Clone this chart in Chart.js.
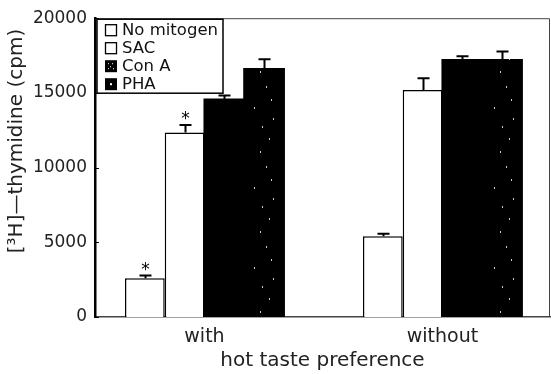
<!DOCTYPE html>
<html>
<head>
<meta charset="utf-8">
<script src="https://cdn.jsdelivr.net/npm/chart.js@4.4.1/dist/chart.umd.min.js"></script>
<style>
  html, body { margin: 0; padding: 0; background: #fff; }
</style>
</head>
<body>
<canvas id="chart" width="551" height="374"></canvas>
<script>
// Data
const categories = ['with', 'without'];
const seriesNames = ['No mitogen', 'SAC', 'Con A', 'PHA'];
const noMitogen = [2600, 5400];
const sac = [12350, 15200];
const conA = [14550, 17200];
const pha = [16600, 17200];
const noMitogenErr = [170, 170];
const sacErr = [500, 780];
const conAErr = [280, 260];
const phaErr = [650, 570];
// asterisks above bars (per series, per category)
const starred = [[true, false], [true, false], [false, false], [false, false]];
const yTicks = [0, 5000, 10000, 15000, 20000];

const FONT = '"DejaVu Sans", sans-serif';

// speckled black fill for PHA
function speckle() {
  const c = document.createElement('canvas');
  c.width = 40; c.height = 80;
  const g = c.getContext('2d');
  g.fillStyle = '#000';
  g.fillRect(0, 0, 40, 80);
  g.fillStyle = '#ccc';
  const dots = [[26, 6], [31, 19], [14, 27], [33, 38], [22, 46], [29, 58], [20, 71]];
  dots.forEach(([x, y]) => g.fillRect(x, y, 1, 2));
  return g.createPattern(c, 'repeat');
}

const toPoints = vals => vals.map((v, i) => ({ x: i + 1, y: v }));

const datasets = [
  { label: seriesNames[0], data: toPoints(noMitogen), errors: noMitogenErr,
    backgroundColor: '#fff', borderColor: '#000', borderWidth: 1.5 },
  { label: seriesNames[1], data: toPoints(sac), errors: sacErr,
    backgroundColor: '#fff', borderColor: '#000', borderWidth: 1.5 },
  { label: seriesNames[2], data: toPoints(conA), errors: conAErr,
    backgroundColor: '#000', borderWidth: 0, inflateAmount: 1 },
  { label: seriesNames[3], data: toPoints(pha), errors: phaErr,
    backgroundColor: speckle(), borderWidth: 0, inflateAmount: 1 }
];

// frame, error bars, asterisks, legend box, y title
const decor = {
  id: 'decor',
  afterDatasetsDraw(chart) {
    const { ctx, chartArea: a, scales: { y } } = chart;
    ctx.save();
    ctx.strokeStyle = '#444';
    ctx.lineWidth = 1;
    ctx.beginPath();
    ctx.moveTo(a.left, a.top + 0.5);
    ctx.lineTo(a.right - 0.5, a.top + 0.5);
    ctx.lineTo(a.right - 0.5, a.bottom);
    ctx.stroke();

    // small inward ticks on the y axis
    ctx.strokeStyle = '#000';
    yTicks.forEach(t => {
      const py = Math.round(y.getPixelForValue(t)) + 0.5;
      ctx.beginPath();
      ctx.moveTo(a.left, py);
      ctx.lineTo(a.left + 4, py);
      ctx.stroke();
    });

    chart.data.datasets.forEach((ds, di) => {
      chart.getDatasetMeta(di).data.forEach((bar, i) => {
        const top = y.getPixelForValue(ds.data[i].y + ds.errors[i]);
        const bx = Math.round(bar.x) + 0.5;
        ctx.strokeStyle = '#000';
        ctx.lineWidth = 2;
        ctx.beginPath();
        ctx.moveTo(bx, bar.y);
        ctx.lineTo(bx, top);
        ctx.moveTo(bx - 6, top);
        ctx.lineTo(bx + 6, top);
        ctx.stroke();
        if (starred[di][i]) {
          ctx.fillStyle = '#000';
          ctx.font = '17px ' + FONT;
          ctx.textAlign = 'center';
          ctx.textBaseline = 'alphabetic';
          ctx.fillText('*', bx, top - 1);
        }
      });
    });
    ctx.restore();
  },
  afterDraw(chart) {
    const { ctx, chartArea: a } = chart;
    ctx.save();
    // legend
    const lx = a.left + 2, ly = a.top + 1;
    ctx.fillStyle = '#fff';
    ctx.fillRect(lx, ly, 126, 74);
    ctx.strokeStyle = '#000';
    ctx.lineWidth = 1.5;
    ctx.strokeRect(lx, ly, 126, 74);
    ctx.font = '16.5px ' + FONT;
    ctx.textBaseline = 'middle';
    ctx.textAlign = 'left';
    seriesNames.forEach((name, i) => {
      const cy = ly + 11 + 18 * i;
      const sx = lx + 8, sy = cy - 6;
      if (i < 2) {
        ctx.fillStyle = '#fff';
        ctx.fillRect(sx, sy, 12, 12);
        ctx.lineWidth = 1.3;
        ctx.strokeRect(sx + 0.5, sy + 0.5, 11, 11);
      } else {
        ctx.fillStyle = '#000';
        ctx.fillRect(sx, sy, 12, 12);
        ctx.fillStyle = '#fff';
        if (i === 2) {
          [[3, 3], [7, 3], [5, 6], [3, 8], [8, 8]].forEach(([dx, dy]) => ctx.fillRect(sx + dx, sy + dy, 1, 1));
        } else {
          ctx.fillRect(sx + 5, sy + 5, 2, 2);
        }
      }
      ctx.fillStyle = '#111';
      ctx.fillText(name, lx + 25, cy + 1);
    });

    // y axis title
    ctx.translate(17, 141);
    ctx.rotate(-Math.PI / 2);
    ctx.textAlign = 'center';
    ctx.textBaseline = 'middle';
    ctx.font = '20px ' + FONT;
    ctx.fillStyle = '#222';
    ctx.fillText('[\u00b3H]\u2014thymidine (cpm)', 0, 0);
    ctx.restore();
  }
};

new Chart(document.getElementById('chart'), {
  type: 'bar',
  data: { datasets },
  options: {
    responsive: false,
    animation: false,
    devicePixelRatio: 1,
    layout: { padding: { left: 0, right: 1, top: 11, bottom: 0 } },
    datasets: { bar: { categoryPercentage: 0.668, barPercentage: 1 } },
    plugins: { legend: { display: false }, tooltip: { enabled: false } },
    scales: {
      x: {
        type: 'linear',
        offset: false,
        bounds: 'data',
        min: 0.54,
        max: 2.452,
        afterBuildTicks: ax => { ax.ticks = categories.map((c, i) => ({ value: i + 1 })); },
        afterFit: ax => { ax.height = 57; },
        ticks: {
          callback: v => categories[v - 1],
          font: { family: FONT, size: 19 },
          color: '#222',
          padding: 9,
          autoSkip: false,
          maxRotation: 0
        },
        grid: { display: false, drawTicks: false, offset: false },
        border: { display: true, color: '#444', width: 1.5 },
        title: {
          display: true,
          text: 'hot taste preference',
          font: { family: FONT, size: 20 },
          color: '#222',
          padding: { top: 0, bottom: 1 }
        }
      },
      y: {
        min: 0,
        max: 20000,
        afterBuildTicks: ax => { ax.ticks = yTicks.map(v => ({ value: v })); },
        afterFit: ax => { ax.width = 95; },
        ticks: { callback: v => String(v), font: { family: FONT, size: 17 }, color: '#222', padding: 8 },
        grid: { display: false, drawTicks: false },
        border: { display: true, color: '#000', width: 2.5 }
      }
    }
  },
  plugins: [decor]
});
</script>
</body>
</html>
